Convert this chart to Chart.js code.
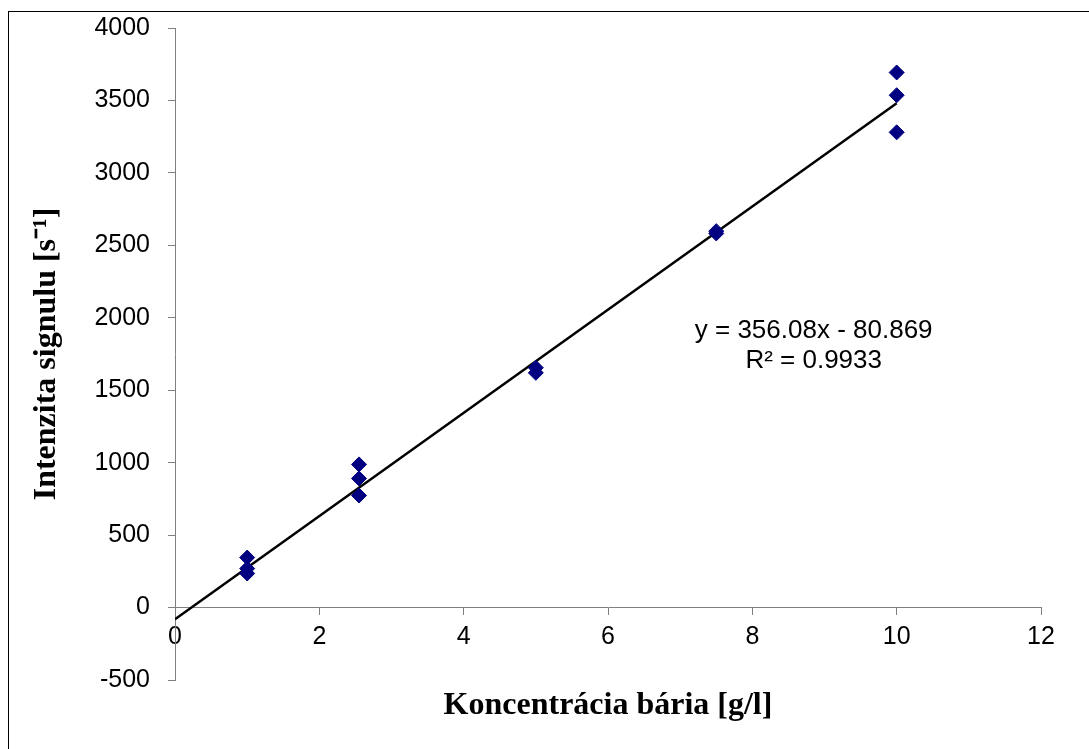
<!DOCTYPE html>
<html>
<head>
<meta charset="utf-8">
<script src="https://cdn.jsdelivr.net/npm/chart.js@4"></script>
<style>
  body { margin: 0; background: #fff; }
  canvas { display: block; }
</style>
</head>
<body>
<canvas id="bariumChart" width="1089" height="749" style="width:1089px;height:749px"></canvas>
<script>
// Namerané body (koncentrácia v g/l, intenzita v s-1)
const concentrations = [1, 1, 1, 2.55, 2.55, 2.55, 5, 5, 7.5, 7.5, 10, 10, 10];
const intensities = [345, 269, 235, 988, 891, 773, 1655, 1620, 2598, 2582, 3693, 3536, 3280];

// Lineárny trend (y = 356.08x - 80.869)
const slope = 356.08;
const intercept = -80.869;
const trendX = [0, 10];
const equationLines = ['y = 356.08x - 80.869', 'R\u00B2 = 0.9933'];

const xTicks = [0, 2, 4, 6, 8, 10, 12];
const yTicks = [-500, 0, 500, 1000, 1500, 2000, 2500, 3000, 3500, 4000];

const axisGray = '#808080';
const sansFont = '"Liberation Sans", Arial, sans-serif';
const serifFont = '"Liberation Serif", "Times New Roman", serif';

document.addEventListener('DOMContentLoaded', function() {
    const points = concentrations.map((c, i) => ({ x: c, y: intensities[i] }));
    const trend = trendX.map(x => ({ x: x, y: slope * x + intercept }));

    // rámik okolo grafu + rovnica trendu
    const extras = {
        id: 'extras',
        beforeDraw(chart) {
            const ctx = chart.ctx;
            ctx.save();
            ctx.fillStyle = '#fff';
            ctx.fillRect(0, 0, chart.width, chart.height);
            ctx.restore();
        },
        afterDraw(chart) {
            const ctx = chart.ctx;
            ctx.save();
            ctx.strokeStyle = '#000';
            ctx.lineWidth = 1;
            ctx.strokeRect(8.5, 11.5, chart.width + 10, chart.height + 10);

            const xs = chart.scales.x, ys = chart.scales.y;
            const cx = xs.getPixelForValue(8.85);
            const cy = ys.getPixelForValue(1910);
            ctx.fillStyle = '#000';
            ctx.font = '26px ' + sansFont;
            ctx.textAlign = 'center';
            ctx.textBaseline = 'middle';
            ctx.fillText(equationLines[0], cx, cy);
            ctx.fillText(equationLines[1], cx, cy + 30);
            ctx.restore();
        }
    };

    new Chart(document.getElementById('bariumChart'), {
        type: 'scatter',
        data: {
            datasets: [{
                label: 'Trend',
                type: 'line',
                data: trend,
                borderColor: '#000',
                borderWidth: 2.5,
                pointRadius: 0,
                fill: false,
                order: 2
            }, {
                label: 'Body',
                data: points,
                pointStyle: 'rectRot',
                pointRadius: 7.5,
                backgroundColor: '#000080',
                borderColor: '#000080',
                borderWidth: 1,
                order: 1
            }]
        },
        options: {
            responsive: false,
            animation: false,
            layout: { padding: { left: 0, top: 28, right: 48, bottom: 0 } },
            plugins: {
                legend: { display: false },
                tooltip: { enabled: false }
            },
            scales: {
                x: {
                    type: 'linear',
                    position: { y: 0 },
                    min: 0,
                    max: 12,
                    afterBuildTicks: s => { s.ticks = xTicks.map(v => ({ value: v })); },
                    afterFit: s => { s.paddingLeft = 0; s.paddingRight = 0; s.paddingTop = 0; s.paddingBottom = 0; },
                    grid: { drawOnChartArea: false, color: axisGray, tickLength: 7 },
                    border: { color: axisGray, width: 1 },
                    ticks: {
                        color: '#000',
                        padding: 8,
                        callback: v => String(v),
                        font: { family: sansFont, size: 25 }
                    }
                },
                x2: {
                    type: 'linear',
                    position: 'bottom',
                    min: 0,
                    max: 12,
                    grid: { display: false },
                    border: { display: false },
                    ticks: { display: false },
                    afterFit: s => { s.height = 69; s.paddingLeft = 0; s.paddingRight = 0; },
                    title: {
                        display: true,
                        text: 'Koncentrácia bária [g/l]',
                        color: '#000',
                        padding: { top: 0, bottom: 24 },
                        font: { family: serifFont, size: 32, weight: 'bold' }
                    }
                },
                y: {
                    type: 'linear',
                    position: 'left',
                    min: -500,
                    max: 4000,
                    afterBuildTicks: s => { s.ticks = yTicks.map(v => ({ value: v })); },
                    afterFit: s => { s.width = 175; s.paddingTop = 0; s.paddingBottom = 0; },
                    grid: { drawOnChartArea: false, color: axisGray, tickLength: 7 },
                    border: { color: axisGray, width: 1 },
                    ticks: {
                        color: '#000',
                        padding: 18,
                        callback: v => String(v),
                        font: { family: sansFont, size: 25 }
                    },
                    title: {
                        display: true,
                        text: 'Intenzita signulu [s\u207B\u00B9]',
                        color: '#000',
                        padding: { top: 28, bottom: 0 },
                        font: { family: serifFont, size: 32, weight: 'bold' }
                    }
                }
            }
        },
        plugins: [extras]
    });
});
</script>
</body>
</html>
